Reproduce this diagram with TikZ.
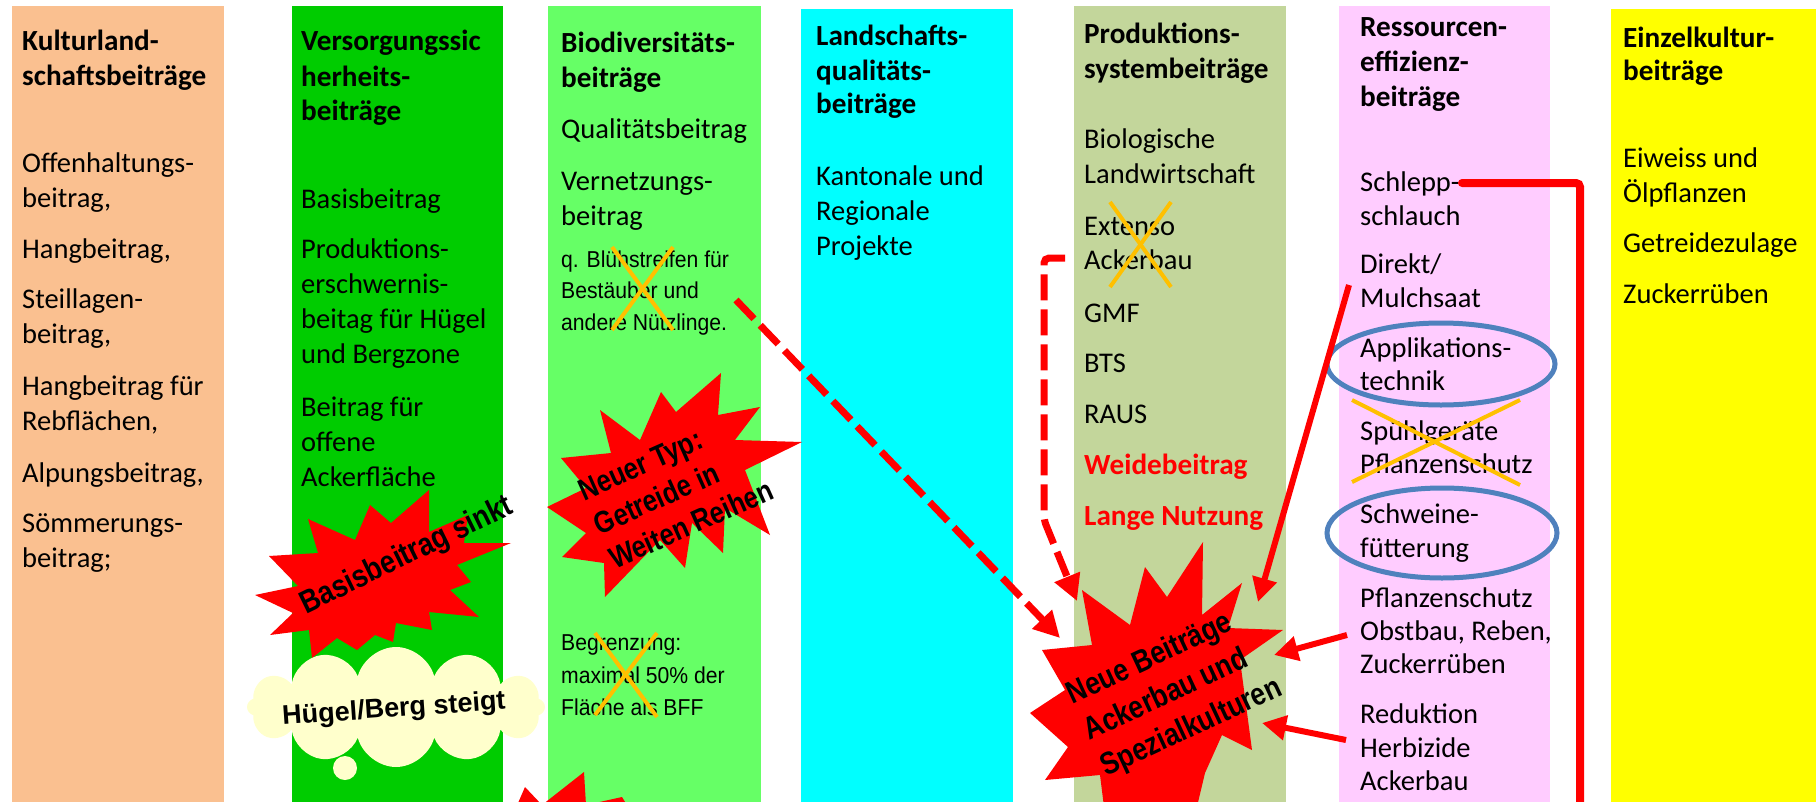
\documentclass[tikz,border=0pt]{standalone}
\usepackage{fontspec}
\setmainfont{Carlito}
\newfontfamily\arialf{Liberation Sans}
\newfontfamily\arialn{Liberation Sans}[FakeStretch=0.92]
\newfontfamily\arialc{Liberation Sans}[FakeStretch=0.84]
\usetikzlibrary{arrows.meta,shapes.symbols}
\definecolor{cA}{HTML}{FAC090}
\definecolor{cB}{HTML}{00CC00}
\definecolor{cC}{HTML}{66FF66}
\definecolor{cD}{HTML}{00FFFF}
\definecolor{cE}{HTML}{C3D69B}
\definecolor{cF}{HTML}{FFCCFF}
\definecolor{cG}{HTML}{FFFF00}
\definecolor{xorange}{HTML}{FFC000}
\definecolor{eblue}{HTML}{4F81BD}
\definecolor{cloudc}{HTML}{FFFFCC}
\tikzset{
  colbox/.style={anchor=north west, inner sep=0pt, minimum height=800pt, draw=none},
  txt/.style={anchor=base west, inner sep=0pt, font=\fontsize{28.5}{34}\selectfont},
  hd/.style={anchor=base west, inner sep=0pt, font=\bfseries\fontsize{29.2}{34}\selectfont},
  redt/.style={hd, text=red},
  sm/.style={anchor=base west, inner sep=0pt, font=\arialn\fontsize{23}{30}\selectfont},
  startxt/.style={align=left, inner sep=0pt},
  crossx/.style={draw=xorange, line width=4pt},
  ell/.style={draw=eblue, line width=5pt},
  sarrow/.style={draw=red, line width=6pt, -{Triangle[length=24pt,width=24pt]}},
  darrow/.style={draw=red, line width=7pt, dash pattern=on 26pt off 9pt, -{Triangle[length=26pt,width=26pt]}},
}
\begin{document}
\begin{tikzpicture}[x=1pt,y=-1pt]
\useasboundingbox (0,0) rectangle (1816,801);
\clip (0,0) rectangle (1816,801);
\fill[white] (0,0) rectangle (1816,801);
% columns
\node[colbox, fill=cA, minimum width=212pt] (k1) at (12,6) {};
\node[colbox, fill=cB, minimum width=211pt] (k2) at (292,6) {};
\node[colbox, fill=cC, minimum width=213pt] (k3) at (548,6) {};
\node[colbox, fill=cD, minimum width=212pt] (k4) at (801,9) {};
\node[colbox, fill=cE, minimum width=212pt] (k5) at (1074,6) {};
\node[colbox, fill=cF, minimum width=211pt] (k6) at (1339,6) {};
\node[colbox, fill=cG, minimum width=205pt] (k7) at (1611,9) {};
% column 1
\node[hd] (a1) at (22,50) {Kulturland-};
\node[hd] (a2) at (22,85) {schaftsbeiträge};
\node[txt] (a3) at (22,172) {Offenhaltungs-};
\node[txt] (a4) at (22,207) {beitrag,};
\node[txt] (a5) at (22,258) {Hangbeitrag,};
\node[txt] (a6) at (22,308) {Steillagen-};
\node[txt] (a7) at (22,343) {beitrag,};
\node[txt] (a8) at (22,395) {Hangbeitrag für};
\node[txt] (a9) at (22,430) {Rebflächen,};
\node[txt] (a10) at (22,482) {Alpungsbeitrag,};
\node[txt] (a11) at (22,532) {Sömmerungs-};
\node[txt] (a12) at (22,567) {beitrag;};
% column 2
\node[hd] (b1) at (301,50) {Versorgungssic};
\node[hd] (b2) at (301,86) {herheits-};
\node[hd] (b3) at (301,120) {beiträge};
\node[txt] (b4) at (301,208) {Basisbeitrag};
\node[txt] (b5) at (301,258) {Produktions-};
\node[txt] (b6) at (301,293) {erschwernis-};
\node[txt] (b7) at (301,328) {beitag für Hügel};
\node[txt] (b8) at (301,363) {und Bergzone};
\node[txt] (b9) at (301,416) {Beitrag für};
\node[txt] (b10) at (301,451) {offene};
\node[txt] (b11) at (301,486) {Ackerfläche};
% column 3
\node[hd] (c1) at (561,52) {Biodiversitäts-};
\node[hd] (c2) at (561,87) {beiträge};
\node[txt] (c3) at (561,138) {Qualitätsbeitrag};
\node[txt] (c4) at (561,190) {Vernetzungs-};
\node[txt] (c5) at (561,225) {beitrag};
\node[sm] (c6) at (561,267) {q. Blühstreifen für};
\node[sm] (c7) at (561,298) {Bestäuber und};
\node[sm] (c8) at (561,330) {andere Nützlinge.};
\node[sm] (c9) at (561,650) {Begrenzung:};
\node[sm] (c10) at (561,683) {maximal 50\% der};
\node[sm] (c11) at (561,715) {Fläche als BFF};
% column 4
\node[hd] (d1) at (816,45) {Landschafts-};
\node[hd] (d2) at (816,80) {qualitäts-};
\node[hd] (d3) at (816,113) {beiträge};
\node[txt] (d4) at (816,185) {Kantonale und};
\node[txt] (d5) at (816,220) {Regionale};
\node[txt] (d6) at (816,255) {Projekte};
% column 5
\node[hd] (e1) at (1084,43) {Produktions-};
\node[hd] (e2) at (1084,78) {systembeiträge};
\node[txt] (e3) at (1084,148) {Biologische};
\node[txt] (e4) at (1084,183) {Landwirtschaft};
\node[txt] (e5) at (1084,235) {Extenso};
\node[txt] (e6) at (1084,269) {Ackerbau};
\node[txt] (e7) at (1084,322) {GMF};
\node[txt] (e8) at (1084,372) {BTS};
\node[txt] (e9) at (1084,423) {RAUS};
\node[redt] (e10) at (1084,474) {Weidebeitrag};
\node[redt] (e11) at (1084,525) {Lange Nutzung};
% column 6
\node[hd] (f1) at (1360,36) {Ressourcen-};
\node[hd] (f2) at (1360,71) {effizienz-};
\node[hd] (f3) at (1360,106) {beiträge};
\node[txt] (f4) at (1360,191) {Schlepp-};
\node[txt] (f5) at (1360,225) {schlauch};
\node[txt] (f6) at (1360,273) {Direkt/};
\node[txt] (f7) at (1360,307) {Mulchsaat};
\node[txt] (f8) at (1360,357) {Applikations-};
\node[txt] (f9) at (1360,390) {technik};
\node[txt] (f10) at (1360,440) {Spühlgeräte};
\node[txt] (f11) at (1360,473) {Pflanzenschutz};
\node[txt] (f12) at (1360,523) {Schweine-};
\node[txt] (f13) at (1360,557) {fütterung};
\node[txt] (f14) at (1360,607) {Pflanzenschutz};
\node[txt] (f15) at (1360,640) {Obstbau, Reben,};
\node[txt] (f16) at (1360,673) {Zuckerrüben};
\node[txt] (f17) at (1360,723) {Reduktion};
\node[txt] (f18) at (1360,757) {Herbizide};
\node[txt] (f19) at (1360,790) {Ackerbau};
% column 7
\node[hd] (g1) at (1623,47) {Einzelkultur-};
\node[hd] (g2) at (1623,80) {beiträge};
\node[txt] (g3) at (1623,167) {Eiweiss und};
\node[txt] (g4) at (1623,202) {Ölpflanzen};
\node[txt] (g5) at (1623,252) {Getreidezulage};
\node[txt] (g6) at (1623,303) {Zuckerrüben};
% orange crosses
\draw[crossx] (612,247) -- (673,330); \draw[crossx] (673,247) -- (612,330);
\draw[crossx] (595,633) -- (657,717); \draw[crossx] (657,633) -- (595,715);
\draw[crossx] (1110,202) -- (1171,287); \draw[crossx] (1171,202) -- (1110,287);
\draw[crossx] (1352,400) -- (1520,485); \draw[crossx] (1352,482) -- (1520,400);
% blue ellipses
\draw[ell] (1441,364) ellipse [x radius=114pt, y radius=41pt];
\draw[ell] (1442,533) ellipse [x radius=115pt, y radius=45pt];
% Basisbeitrag star
\fill[red] (429,490) -- (391,523) -- (370,505) -- (355,540) -- (308,519) -- (318,553) -- (269,556) -- (298,586) -- (255,595) -- (293,613) -- (270,635) -- (309,630) -- (312,658) -- (337,638) -- (357,650) -- (375,635) -- (393,642) -- (396,623) -- (432,630) -- (429,612) -- (479,617) -- (450,590) -- (471,582) -- (457,565) -- (511,543) -- (464,543) -- (468,515) -- (429,532) -- cycle;
\node[startxt, font=\arialc\bfseries\fontsize{32}{40}\selectfont, rotate=26] (sb) at (407,556) {Basisbeitrag sinkt};
% cloud
\node[cloud, cloud puffs=12, cloud ignores aspect, fill=cloudc, minimum width=298pt, minimum height=120pt, inner sep=0pt] (cl) at (396,707) {};
\node[circle, fill=cloudc, minimum size=24pt, inner sep=0pt] (clt) at (345,768) {};
\node[startxt, font=\arialf\bfseries\fontsize{27}{32}\selectfont, rotate=4] (hb) at (394,710) {Hügel/Berg steigt};
% Neuer Typ star
\fill[red] (661,392) -- (676,412) -- (721,373) -- (718,415) -- (760,407) -- (735,440) -- (802,442) -- (745,470) -- (770,535) -- (725,508) -- (723,553) -- (692,523) -- (685,568) -- (660,540) -- (605,597) -- (604,563) -- (562,557) -- (586,533) -- (547,507) -- (586,488) -- (561,458) -- (611,453) -- (600,410) -- (640,440) -- cycle;
\node[startxt, font=\arialc\bfseries\fontsize{30.5}{37.5}\selectfont, rotate=24] (nt) at (676,490) {Neuer Typ:\\Getreide in\\Weiten Reihen};
% bottom star spikes
\fill[red] (515,810) -- (525,787) -- (542,805) -- (584,772) -- (586,805) -- (622,797) -- (630,810) -- cycle;
% Neue Beitraege star
\fill[red] (1203,542) -- (1202,615) -- (1242,583) -- (1228,628) -- (1283,630) -- (1240,660) -- (1252,750) -- (1222,735) -- (1205,773) -- (1195,815) -- (1105,815) -- (1100,775) -- (1045,780) -- (1068,747) -- (1030,713) -- (1065,690) -- (1042,650) -- (1092,645) -- (1082,590) -- (1130,625) -- (1145,567) -- (1167,597) -- cycle;
\node[startxt, font=\arialc\bfseries\fontsize{31.5}{40}\selectfont, rotate=25] (nb) at (1175,692) {Neue Beiträge\\Ackerbau und\\Spezialkulturen};
% connectors
\coordinate (p1) at (736,300);
\coordinate (p2) at (1060,638);
\draw[darrow] (p1) -- (p2);
\coordinate (q1) at (1065,258);
\coordinate (q2) at (1044,258);
\coordinate (q3) at (1044,520);
\coordinate (q4) at (1077,601);
\draw[darrow, rounded corners=5pt] (q1) -- (q2) -- (q3) -- (q4);
\coordinate (r1) at (1349,285);
\coordinate (r2) at (1258,602);
\draw[sarrow] (r1) -- (r2);
\coordinate (s1) at (1347,635);
\coordinate (s2) at (1274,655);
\draw[sarrow] (s1) -- (s2);
\coordinate (t1) at (1346,740);
\coordinate (t2) at (1262,723);
\draw[sarrow] (t1) -- (t2);
\coordinate (u1) at (1462,183);
\coordinate (u2) at (1580,183);
\coordinate (u3) at (1580,815);
\draw[red, line width=8pt, line cap=round, rounded corners=4pt] (u1) -- (u2) -- (u3);
\end{tikzpicture}
\end{document}
